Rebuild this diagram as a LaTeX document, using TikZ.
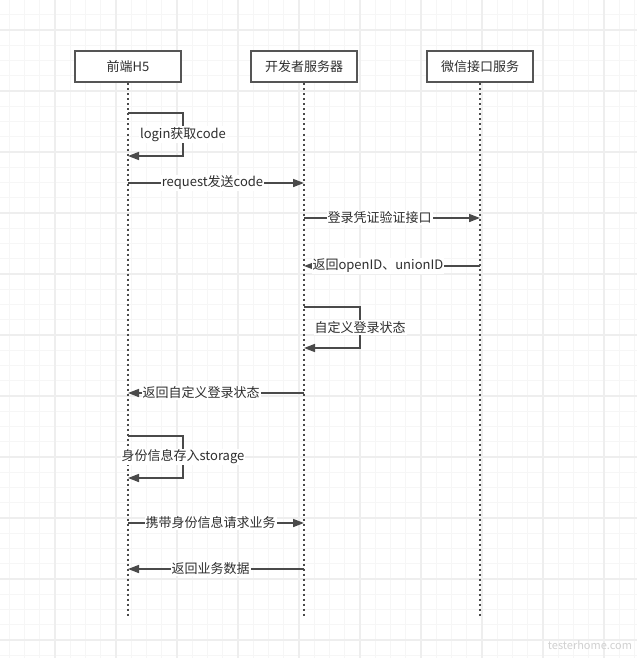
\documentclass[tikz,border=0pt]{standalone}
\usepackage{fontspec}
\setmainfont{Noto Sans CJK SC}
\usetikzlibrary{arrows.meta}

\definecolor{linegray}{HTML}{4A4A4A}
\definecolor{boxgray}{HTML}{555555}
\definecolor{textgray}{HTML}{2E2E2E}
\definecolor{gridminor}{HTML}{F6F6F6}
\definecolor{gridmajor}{HTML}{EEEEEE}

\begin{document}
\begin{tikzpicture}[x=1pt, y=-1pt, font=\fontsize{13}{15}\selectfont]
  \tikzstyle{actor}=[draw=boxgray, line width=2pt, fill=white, minimum width=106pt, minimum height=31pt, text=textgray, inner sep=0pt]
  \tikzstyle{life}=[draw=linegray, line width=2pt, dash pattern=on 2pt off 3pt]
  \tikzstyle{msg}=[draw=linegray, line width=1.6pt, -{Triangle[length=11pt,width=8pt]}]
  \tikzstyle{lbl}=[fill=white, inner sep=1pt, text=textgray]

  \useasboundingbox (0,0) rectangle (637,658);
  \fill[white] (0,0) rectangle (637,658);

  \foreach \i in {-3,...,38}
    \draw[gridminor, line width=1pt] ({55+15.25*\i},0) -- ({55+15.25*\i},658);
  \foreach \i in {-1,...,41}
    \draw[gridminor, line width=1pt] (0,{30+15.25*\i}) -- (637,{30+15.25*\i});
  \foreach \i in {0,...,9}
    \draw[gridmajor, line width=1.3pt] ({55+61*\i},0) -- ({55+61*\i},658);
  \foreach \i in {0,...,10}
    \draw[gridmajor, line width=1.3pt] (0,{30+61*\i}) -- (637,{30+61*\i});

  \node[actor] (H5) at (128, 67) {前端H5};

  \node[actor] (Srv) at (304, 67) {开发者服务器};

  \node[actor] (Wx) at (480, 67) {微信接口服务};

  \coordinate (H5end) at (128, 618);
  \coordinate (Srvend) at (304, 618);
  \coordinate (Wxend) at (480, 618);

  \draw[life] (H5) -- (H5end);
  \draw[life] (Srv) -- (Srvend);
  \draw[life] (Wx) -- (Wxend);

  \coordinate (login1) at (128, 113);
  \coordinate (login2) at (128, 156);
  \draw[msg] (login1) -- ++(55,0) -- node[lbl] {login获取code} ++(0,43) -- (login2);

  \coordinate (req1) at (128, 183);
  \coordinate (req2) at (304, 183);
  \draw[msg] (req1) -- node[lbl, pos=0.48] {request发送code} (req2);

  \coordinate (auth1) at (304, 218);
  \coordinate (auth2) at (480, 218);
  \draw[msg] (auth1) -- node[lbl, pos=0.43] {登录凭证验证接口} (auth2);

  \coordinate (oid1) at (480, 266);
  \coordinate (oid2) at (304, 266);
  \draw[msg] (oid1) -- node[lbl, pos=0.58] {返回openID、unionID} (oid2);

  \coordinate (state1) at (304, 307);
  \coordinate (state2) at (304, 348);
  \draw[msg] (state1) -- ++(56,0) -- node[lbl] {自定义登录状态} ++(0,41) -- (state2);

  \coordinate (ret1) at (304, 393);
  \coordinate (ret2) at (128, 393);
  \draw[msg] (ret1) -- node[lbl, pos=0.585] {返回自定义登录状态} (ret2);

  \coordinate (store1) at (128, 436);
  \coordinate (store2) at (128, 478);
  \draw[msg] (store1) -- ++(55,0) -- node[lbl] {身份信息存入storage} ++(0,42) -- (store2);

  \coordinate (biz1) at (128, 523);
  \coordinate (biz2) at (304, 523);
  \draw[msg] (biz1) -- node[lbl, pos=0.47] {携带身份信息请求业务} (biz2);

  \coordinate (data1) at (304, 569);
  \coordinate (data2) at (128, 569);
  \draw[msg] (data1) -- node[lbl, pos=0.53] {返回业务数据} (data2);

  \node[text=black!18, font=\fontsize{11}{13}\selectfont\itshape] (mark) at (590, 645) {testerhome.com};

\end{tikzpicture}
\end{document}
